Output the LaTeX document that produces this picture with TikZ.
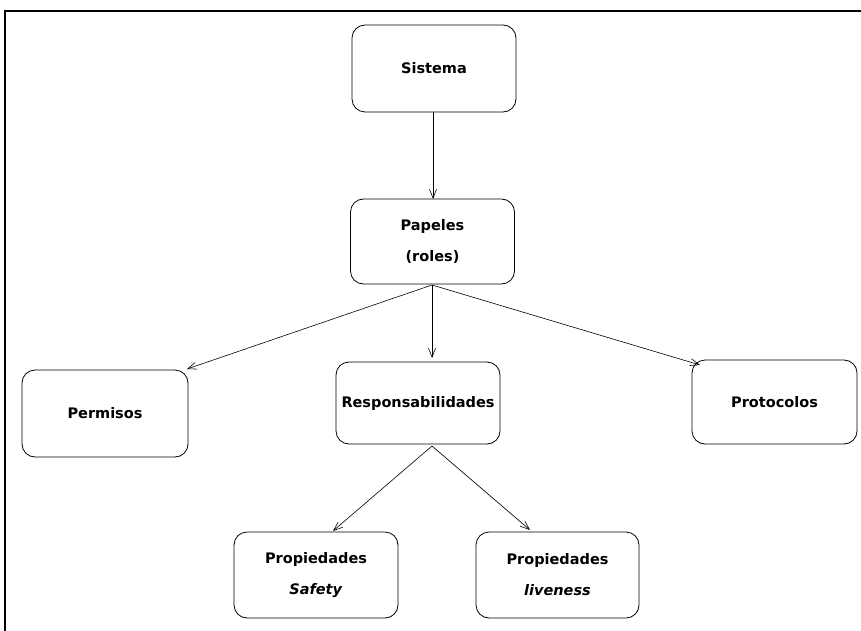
\documentclass[tikz,border=0pt]{standalone}
\usepackage{fontspec}
\setmainfont{DejaVu Sans}
\usetikzlibrary{arrows.meta}
\begin{document}
\begin{tikzpicture}[x=1pt,y=-1pt,
  box/.style={draw=black, line width=0.8pt, rounded corners=13pt, fill=white,
    minimum width=#1, align=center, font=\fontsize{14.5}{31}\selectfont\bfseries},
  box/.default=164pt,
  link/.style={draw=black, line width=0.6pt, -{Straight Barb[length=9pt,width=7pt,line width=0.6pt]}}]
  % page frame
  \useasboundingbox (0,0) rectangle (861,631);
  \fill[white] (0,0) rectangle (861,631);
  \draw[line width=2pt] (5,640) -- (5,11) -- (870,11);

  % nodes
  \node[box, minimum height=87pt] (sis) at (434,68.5) {Sistema};
  \node[box, minimum height=85pt] (pap) at (432.5,241.5) {Papeles\\(roles)};
  \node[box=166pt, minimum height=87pt] (per) at (105,413.5) {Permisos};
  \node[box, minimum height=82pt] (res) at (418,403) {Responsabilidades};
  \node[box=165pt, minimum height=84pt] (pro) at (774.5,402) {Protocolos};
  \node[box, minimum height=86pt] (saf) at (316,575) {Propiedades\\\textit{Safety}};
  \node[box=163pt, minimum height=86pt] (liv) at (557.5,575) {Propiedades\\\textit{liveness}};

  % connectors
  \coordinate (pb) at (432,285);
  \coordinate (rb) at (432,446);
  \draw[link] (sis.south -| 433,0) -- (433,199);
  \draw[link] (pb) -- (187,369);
  \draw[link] (pb) -- (432,358);
  \draw[link] (pb) -- (700,365);
  \draw[link] (rb) -- (333,531);
  \draw[link] (rb) -- (530,530);
\end{tikzpicture}
\end{document}
